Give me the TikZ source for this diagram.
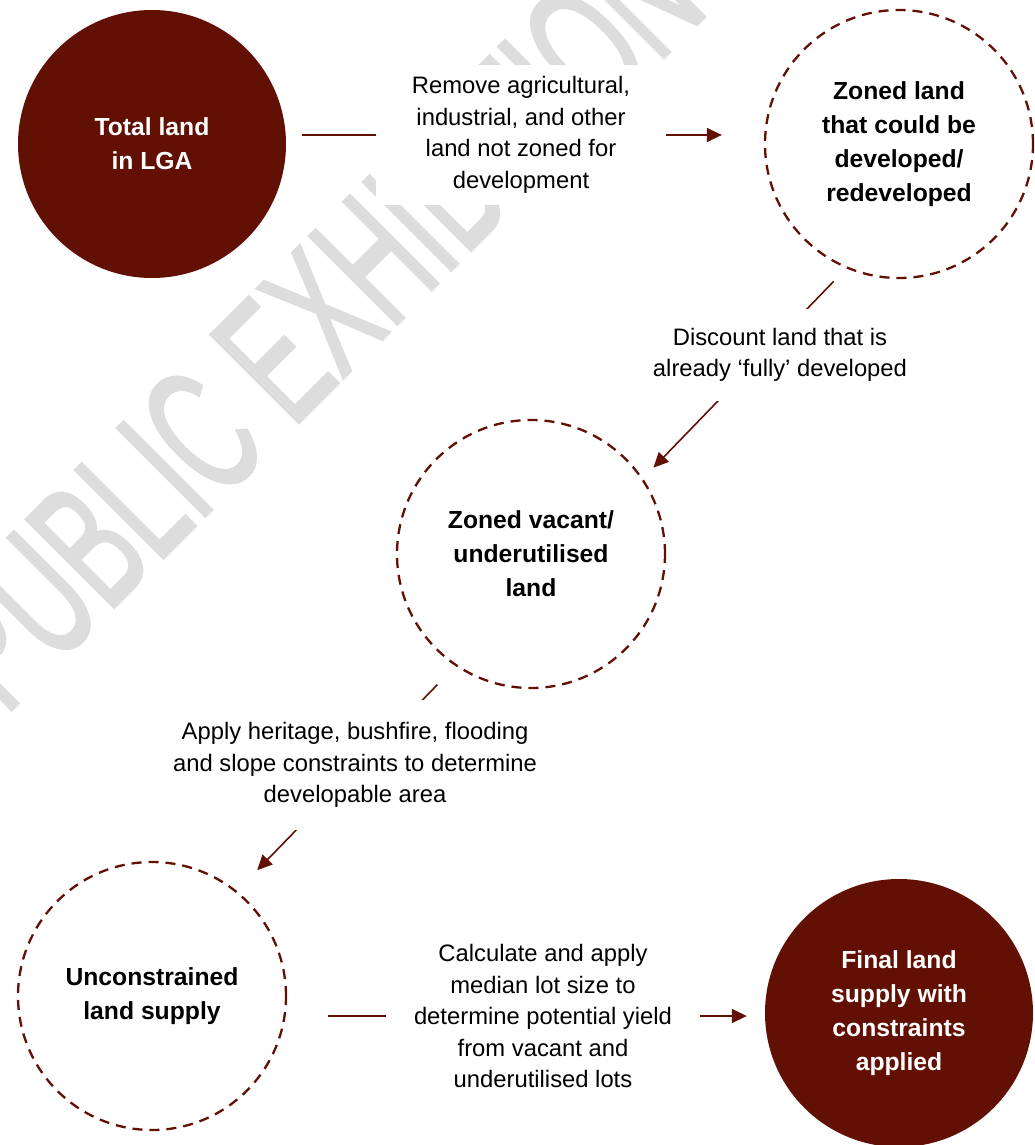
\documentclass[tikz,border=0pt]{standalone}
\usepackage{fontspec}
\setmainfont{Liberation Sans}
\newfontfamily\wmfont[FakeBold=2]{Liberation Sans}
\usepackage{graphicx}
\definecolor{lgared}{RGB}{98,16,4}
\definecolor{wmgray}{RGB}{221,221,221}
\usetikzlibrary{arrows.meta,backgrounds}

\begin{document}
\begin{tikzpicture}[x=1pt, y=-1pt,
  fullc/.style={circle, fill=lgared, minimum size=268pt, inner sep=0pt,
               font=\fontsize{24.7}{34}\selectfont\bfseries, align=center, text=white},
  dashc/.style={circle, draw=lgared, line width=2.3pt, dash pattern=on 10pt off 7pt,
               fill=white, minimum size=268pt, inner sep=0pt,
               font=\fontsize{24.7}{34}\selectfont\bfseries, align=center, text=black},
  lbl/.style={fill=white, inner xsep=6pt, inner ysep=12pt,
              font=\fontsize{23.8}{31.5}\selectfont, align=center},
  link/.style={draw=lgared, line width=1.6pt},
  arr/.style={link, -{Triangle[length=15pt, width=14pt]}}
]
\useasboundingbox (0,0) rectangle (1034,1145);

% Watermark
\begin{scope}[on background layer]
  \clip (0,0) rectangle (1034,1145);
  \node[anchor=base west, inner sep=0pt, rotate=45, text=wmgray] (wmark) at (5,716)
    {\wmfont\fontsize{180}{180}\selectfont\scalebox{0.58}[1]{PUBLIC EXHIBITION}};
\end{scope}

% Circles
\node[fullc] (total)  at (152,144)  {Total land\\in LGA};
\node[dashc] (zoned)  at (899,144)  {Zoned land\\that could be\\developed/\\redeveloped};
\node[dashc] (vacant) at (531,554)  {Zoned vacant/\\underutilised\\land};
\node[dashc] (uncon)  at (152,996)  {Unconstrained\\land supply};
\node[fullc] (final)  at (899,1013) {Final land\\supply with\\constraints\\applied};

% Step labels
\node[lbl, inner xsep=36pt] (remove) at (521,135)
  {Remove agricultural,\\industrial, and other\\land not zoned for\\development};
\node[lbl, inner ysep=19pt] (discount) at (780,355)
  {Discount land that is\\already ‘fully’ developed};
\node[lbl, inner ysep=22pt] (apply) at (355,765)
  {Apply heritage, bushfire, flooding\\and slope constraints to determine\\developable area};
\node[lbl, inner xsep=28pt] (calc) at (543,1016)
  {Calculate and apply\\median lot size to\\determine potential yield\\from vacant and\\underutilised lots};

% Arrows
\begin{scope}[on background layer]
  \draw[arr, shorten <=16pt, shorten >=42pt] (total.east |- remove) -- (zoned.west |- remove);
  \draw[arr, shorten <=18pt, shorten >=15pt] (zoned.247) -- (vacant.34);
  \draw[arr, shorten <=26pt, shorten >=29pt] (vacant.236) -- (uncon.51);
  \draw[arr, shorten <=41pt, shorten >=18pt] (uncon.east |- calc) -- (final.west |- calc);
\end{scope}
\end{tikzpicture}
\end{document}
